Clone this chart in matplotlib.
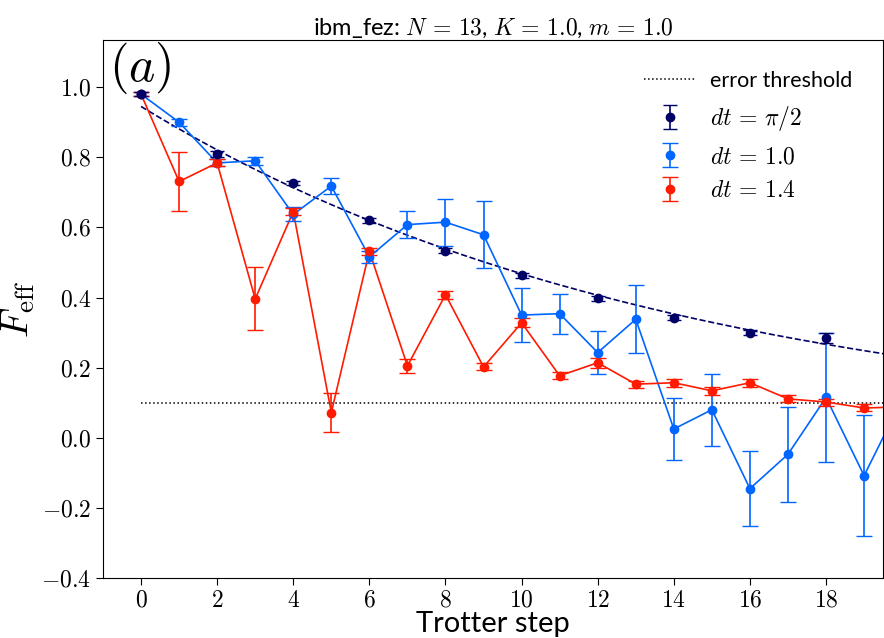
import numpy as np
import matplotlib
matplotlib.use("Agg")
import matplotlib.pyplot as plt
from matplotlib.ticker import FuncFormatter

plt.rcParams['mathtext.fontset'] = 'cm'
plt.rcParams['font.family'] = ['Lato', 'DejaVu Sans']

# dt = pi/2 (even steps)
steps_pi2 = [0, 2, 4, 6, 8, 10, 12, 14, 16, 18]
f_pi2 = [0.98, 0.81, 0.727, 0.62, 0.534, 0.463, 0.398, 0.343, 0.30, 0.284]
err_pi2 = [0.006, 0.008, 0.006, 0.006, 0.006, 0.007, 0.007, 0.008, 0.007, 0.015]

# dt = 1.0
steps_10 = list(range(21))
f_10 = [0.98, 0.90, 0.784, 0.79, 0.637, 0.718, 0.516, 0.608, 0.615, 0.579,
        0.35, 0.354, 0.243, 0.338, 0.025, 0.08, -0.145, -0.047, 0.115, -0.108, 0.11]
err_10 = [0.005, 0.01, 0.01, 0.012, 0.02, 0.022, 0.017, 0.039, 0.067, 0.095,
          0.077, 0.057, 0.061, 0.097, 0.089, 0.103, 0.107, 0.136, 0.185, 0.172, 0.17]

# dt = 1.4
steps_14 = list(range(21))
f_14 = [0.98, 0.731, 0.784, 0.396, 0.645, 0.072, 0.532, 0.205, 0.408, 0.202,
        0.328, 0.177, 0.214, 0.153, 0.157, 0.134, 0.157, 0.111, 0.102, 0.085, 0.088]
err_14 = [0.006, 0.085, 0.01, 0.09, 0.01, 0.055, 0.01, 0.021, 0.012, 0.01,
          0.013, 0.01, 0.014, 0.01, 0.012, 0.012, 0.012, 0.01, 0.01, 0.01, 0.01]

# exponential fit to dt = pi/2 (amplitude, decay rate)
fit_amp = 0.945
fit_rate = 0.0703
threshold = 0.1

c_navy = '#000066'
c_blue = '#0066ff'
c_red = '#ff1a00'

fig = plt.figure(figsize=(8.84, 6.38), dpi=100)
ax = fig.add_axes([0.1165, 0.094, 0.8825, 0.843])

xfit = np.linspace(0, 20, 200)
ax.plot(xfit, fit_amp * np.exp(-fit_rate * xfit), '--', color=c_navy, lw=1.2)
ax.plot([0, 20], [threshold, threshold], ':', color='black', lw=1.1,
        label='error threshold')

# connecting lines (not in legend)
ax.plot(steps_10, f_10, '-', color=c_blue, lw=1.2, zorder=2)
ax.plot(steps_14, f_14, '-', color=c_red, lw=1.2, zorder=2)

ax.errorbar(steps_pi2, f_pi2, yerr=err_pi2, fmt='o', color=c_navy, ms=6,
            capsize=5, elinewidth=1.2, label=r'$dt\,=\,\pi/2$', zorder=4)
ax.errorbar(steps_10, f_10, yerr=err_10, fmt='o', color=c_blue, ms=6,
            capsize=6, elinewidth=1.2, label=r'$dt\,=\,1.0$', zorder=3)
ax.errorbar(steps_14, f_14, yerr=err_14, fmt='o', color=c_red, ms=6,
            capsize=6, elinewidth=1.2, label=r'$dt\,=\,1.4$', zorder=3)

ax.set_xlim(-1, 19.5)
ax.set_ylim(-0.4, 1.134)
ax.set_xticks(range(0, 19, 2))
ax.set_yticks(np.arange(-0.4, 1.01, 0.2))
ax.xaxis.set_major_formatter(FuncFormatter(lambda v, p: r'$%d$' % v))
ax.yaxis.set_major_formatter(FuncFormatter(lambda v, p: r'$%.1f$' % v))
ax.tick_params(labelsize=17, length=5)

ax.set_xlabel('Trotter step', fontsize=21, labelpad=0)
ax.set_ylabel(r'$F_{\rm eff}$', fontsize=28)
ax.yaxis.set_label_coords(-0.085, 0.5)
ax.set_title(r'ibm_fez: $N\,=\,13$, $K\,=\,1.0$, $m\,=\,1.0$', fontsize=17, pad=3)
ax.text(0.008, 1.0, r'$(a)$', transform=ax.transAxes, fontsize=36,
        va='top', ha='left')

leg = ax.legend(loc='upper right', frameon=False, fontsize=17, handlelength=2.2,
                borderaxespad=0.9, labelspacing=0.55, handletextpad=0.6)
leg.get_texts()[0].set_fontsize(15.5)

plt.savefig('out.png', dpi=100)
